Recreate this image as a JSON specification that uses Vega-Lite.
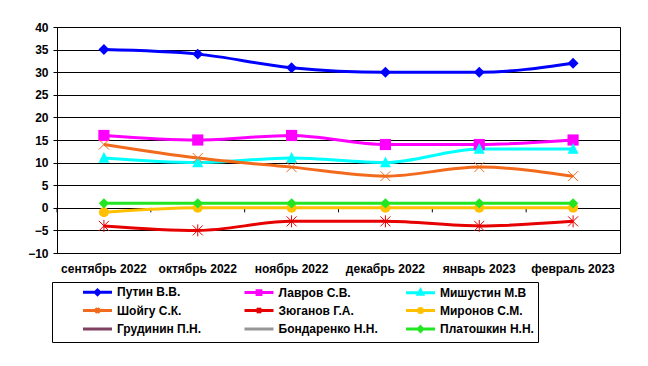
{
  "$schema": "https://vega.github.io/schema/vega-lite/v6.json",
  "width": 563,
  "height": 226,
  "autosize": {"type": "none"},
  "padding": {"left": 57, "top": 27, "right": 28, "bottom": 113},
  "background": "white",
  "config": {
    "font": "Liberation Sans",
    "view": {"stroke": "#000", "strokeWidth": 1},
    "axis": {
      "labelFont": "Liberation Sans",
      "labelFontWeight": "bold",
      "labelFontSize": 12,
      "labelColor": "#000",
      "domainColor": "#000",
      "tickColor": "#000",
      "gridColor": "#000",
      "gridOpacity": 1,
      "gridWidth": 1
    }
  },
  "data": {
    "values": [
      {"month": "сентябрь 2022", "name": "Путин В.В.", "value": 35},
      {"month": "октябрь 2022", "name": "Путин В.В.", "value": 34},
      {"month": "ноябрь 2022", "name": "Путин В.В.", "value": 31},
      {"month": "декабрь 2022", "name": "Путин В.В.", "value": 30},
      {"month": "январь 2023", "name": "Путин В.В.", "value": 30},
      {"month": "февраль 2023", "name": "Путин В.В.", "value": 32},
      {"month": "сентябрь 2022", "name": "Лавров С.В.", "value": 16},
      {"month": "октябрь 2022", "name": "Лавров С.В.", "value": 15},
      {"month": "ноябрь 2022", "name": "Лавров С.В.", "value": 16},
      {"month": "декабрь 2022", "name": "Лавров С.В.", "value": 14},
      {"month": "январь 2023", "name": "Лавров С.В.", "value": 14},
      {"month": "февраль 2023", "name": "Лавров С.В.", "value": 15},
      {"month": "сентябрь 2022", "name": "Мишустин М.В", "value": 11},
      {"month": "октябрь 2022", "name": "Мишустин М.В", "value": 10},
      {"month": "ноябрь 2022", "name": "Мишустин М.В", "value": 11},
      {"month": "декабрь 2022", "name": "Мишустин М.В", "value": 10},
      {"month": "январь 2023", "name": "Мишустин М.В", "value": 13},
      {"month": "февраль 2023", "name": "Мишустин М.В", "value": 13},
      {"month": "сентябрь 2022", "name": "Шойгу С.К.", "value": 14},
      {"month": "октябрь 2022", "name": "Шойгу С.К.", "value": 11},
      {"month": "ноябрь 2022", "name": "Шойгу С.К.", "value": 9},
      {"month": "декабрь 2022", "name": "Шойгу С.К.", "value": 7},
      {"month": "январь 2023", "name": "Шойгу С.К.", "value": 9},
      {"month": "февраль 2023", "name": "Шойгу С.К.", "value": 7},
      {"month": "сентябрь 2022", "name": "Зюганов Г.А.", "value": -4},
      {"month": "октябрь 2022", "name": "Зюганов Г.А.", "value": -5},
      {"month": "ноябрь 2022", "name": "Зюганов Г.А.", "value": -3},
      {"month": "декабрь 2022", "name": "Зюганов Г.А.", "value": -3},
      {"month": "январь 2023", "name": "Зюганов Г.А.", "value": -4},
      {"month": "февраль 2023", "name": "Зюганов Г.А.", "value": -3},
      {"month": "сентябрь 2022", "name": "Миронов С.М.", "value": -1},
      {"month": "октябрь 2022", "name": "Миронов С.М.", "value": 0},
      {"month": "ноябрь 2022", "name": "Миронов С.М.", "value": 0},
      {"month": "декабрь 2022", "name": "Миронов С.М.", "value": 0},
      {"month": "январь 2023", "name": "Миронов С.М.", "value": 0},
      {"month": "февраль 2023", "name": "Миронов С.М.", "value": 0},
      {"month": "сентябрь 2022", "name": "Платошкин Н.Н.", "value": 1},
      {"month": "октябрь 2022", "name": "Платошкин Н.Н.", "value": 1},
      {"month": "ноябрь 2022", "name": "Платошкин Н.Н.", "value": 1},
      {"month": "декабрь 2022", "name": "Платошкин Н.Н.", "value": 1},
      {"month": "январь 2023", "name": "Платошкин Н.Н.", "value": 1},
      {"month": "февраль 2023", "name": "Платошкин Н.Н.", "value": 1}
    ]
  },
  "encoding": {
    "x": {
      "field": "month", "type": "ordinal",
      "sort": ["сентябрь 2022", "октябрь 2022", "ноябрь 2022", "декабрь 2022", "январь 2023", "февраль 2023"],
      "scale": {"type": "band", "paddingInner": 0, "paddingOuter": 0},
      "axis": {"orient": "bottom", "title": null, "ticks": false, "domain": false, "grid": false, "labelPadding": 10, "labelAngle": 0}
    },
    "y": {
      "field": "value", "type": "quantitative",
      "scale": {"domain": [-10, 40], "nice": false, "zero": false},
      "axis": {"title": null, "values": [-10, -5, 0, 5, 10, 15, 20, 25, 30, 35, 40], "tickSize": 4, "labelPadding": 5, "grid": true}
    }
  },
  "layer": [
    {
      "transform": [{"filter": {"field": "name", "oneOf": ["Платошкин Н.Н."]}}],
      "mark": {"type": "rule", "color": "#000", "strokeWidth": 1},
      "encoding": {
        "x": {"field": "month", "type": "ordinal", "sort": ["сентябрь 2022", "октябрь 2022", "ноябрь 2022", "декабрь 2022", "январь 2023", "февраль 2023"], "bandPosition": 0},
        "y": {"datum": 0},
        "y2": {"datum": -1}
      }
    },
    {
      "mark": {"type": "line", "interpolate": "monotone", "strokeWidth": 3},
      "encoding": {
        "color": {
          "field": "name", "type": "nominal",
          "scale": {
            "domain": ["Платошкин Н.Н.", "Бондаренко Н.Н.", "Грудинин П.Н.", "Миронов С.М.", "Зюганов Г.А.", "Шойгу С.К.", "Мишустин М.В", "Лавров С.В.", "Путин В.В."],
            "range": ["#22e622", "#969696", "#7f3f5f", "#ffc000", "#e60000", "#f26b1d", "#00ffff", "#ff00ff", "#0000ff"]
          },
          "legend": null
        }
      }
    },
    {
      "transform": [{"filter": {"field": "name", "oneOf": ["Путин В.В."]}}],
      "mark": {"type": "point", "shape": "diamond", "filled": true, "size": 120, "opacity": 1},
      "encoding": {"color": {"field": "name", "type": "nominal", "legend": null}}
    },
    {
      "transform": [{"filter": {"field": "name", "oneOf": ["Лавров С.В."]}}],
      "mark": {"type": "point", "shape": "square", "filled": true, "size": 125, "opacity": 1},
      "encoding": {"color": {"field": "name", "type": "nominal", "legend": null}}
    },
    {
      "transform": [{"filter": {"field": "name", "oneOf": ["Мишустин М.В"]}}],
      "mark": {"type": "point", "shape": "M0,-1.1L1,0.85L-1,0.85Z", "filled": true, "size": 121, "opacity": 1},
      "encoding": {"color": {"field": "name", "type": "nominal", "legend": null}}
    },
    {
      "transform": [{"filter": {"field": "name", "oneOf": ["Шойгу С.К."]}}],
      "mark": {"type": "point", "shape": "M-1,-1L1,1M-1,1L1,-1", "filled": false, "strokeWidth": 1, "size": 100, "opacity": 1},
      "encoding": {"color": {"field": "name", "type": "nominal", "legend": null}}
    },
    {
      "transform": [{"filter": {"field": "name", "oneOf": ["Зюганов Г.А."]}}],
      "mark": {"type": "point", "shape": "M-1,-1L1,1M-1,1L1,-1M0,-1.2V1.2", "filled": false, "strokeWidth": 1, "size": 100, "opacity": 1},
      "encoding": {"color": {"field": "name", "type": "nominal", "legend": null}}
    },
    {
      "transform": [{"filter": {"field": "name", "oneOf": ["Миронов С.М."]}}],
      "mark": {"type": "point", "shape": "circle", "filled": true, "size": 100, "opacity": 1},
      "encoding": {"color": {"field": "name", "type": "nominal", "legend": null}}
    },
    {
      "transform": [{"filter": {"field": "name", "oneOf": ["Платошкин Н.Н."]}}],
      "mark": {"type": "point", "shape": "diamond", "filled": true, "size": 105, "opacity": 1},
      "encoding": {"color": {"field": "name", "type": "nominal", "legend": null}}
    },
    {
      "transform": [{"filter": "datum.value > 1000"}],
      "mark": {"type": "point", "filled": true, "opacity": 1},
      "encoding": {
        "fill": {
          "field": "name", "type": "nominal",
          "scale": {
            "domain": ["Путин В.В.", "Лавров С.В.", "Мишустин М.В", "Шойгу С.К.", "Зюганов Г.А.", "Миронов С.М.", "Грудинин П.Н.", "Бондаренко Н.Н.", "Платошкин Н.Н."],
            "range": ["#0000ff", "#ff00ff", "#00ffff", "#f26b1d", "#e60000", "#ffc000", "#7f3f5f", "#969696", "#22e622"]
          },
          "legend": {"title": " ", "titleOrient": "left", "titleFontSize": 1, "titlePadding": 21, "orient": "none", "direction": "horizontal", "legendX": -5, "legendY": 255, "columns": 3, "gridAlign": "all", "columnPadding": 21.5, "rowPadding": 0.5, "padding": 4, "strokeColor": "#000", "labelFont": "Liberation Sans", "labelFontWeight": "bold", "labelFontSize": 12, "labelColor": "#000", "symbolSize": 16, "symbolStrokeWidth": 3, "symbolOffset": 0, "labelOffset": 28}
        },
        "stroke": {
          "field": "name", "type": "nominal",
          "scale": {
            "domain": ["Путин В.В.", "Лавров С.В.", "Мишустин М.В", "Шойгу С.К.", "Зюганов Г.А.", "Миронов С.М.", "Грудинин П.Н.", "Бондаренко Н.Н.", "Платошкин Н.Н."],
            "range": ["#0000ff", "#ff00ff", "#00ffff", "#f26b1d", "#e60000", "#ffc000", "#7f3f5f", "#969696", "#22e622"]
          },
          "legend": {"title": " ", "titleOrient": "left", "titleFontSize": 1, "titlePadding": 21, "orient": "none", "direction": "horizontal", "legendX": -5, "legendY": 255, "columns": 3, "gridAlign": "all", "columnPadding": 21.5, "rowPadding": 0.5, "padding": 4, "strokeColor": "#000", "labelFont": "Liberation Sans", "labelFontWeight": "bold", "labelFontSize": 12, "labelColor": "#000", "symbolSize": 16, "symbolStrokeWidth": 3, "symbolOffset": 0, "labelOffset": 28}
        },
        "shape": {
          "field": "name", "type": "nominal",
          "scale": {
            "domain": ["Путин В.В.", "Лавров С.В.", "Мишустин М.В", "Шойгу С.К.", "Зюганов Г.А.", "Миронов С.М.", "Грудинин П.Н.", "Бондаренко Н.Н.", "Платошкин Н.Н."],
            "range": [
              "M0,0H14.5M7.25,-1.15L8.4,0L7.25,1.15L6.1,0Z",
              "M0,0H14.5M6.3,-0.95H8.2V0.95H6.3Z",
              "M0,0H14.5M7.25,-1.3L8.35,0.75H6.15Z",
              "M0,0H14.5M6.15,-1.1L8.35,1.1M6.15,1.1L8.35,-1.1",
              "M0,0H14.5M6.15,-1.1L8.35,1.1M6.15,1.1L8.35,-1.1M7.25,-1.4V1.4",
              "M0,0H14.5M6.25,0A1,1,0,1,1,8.25,0A1,1,0,1,1,6.25,0Z",
              "M0,0H14.5",
              "M0,0H14.5",
              "M0,0H14.5M7.25,-1.15L8.4,0L7.25,1.15L6.1,0Z"
            ]
          },
          "legend": {"title": " ", "titleOrient": "left", "titleFontSize": 1, "titlePadding": 21, "orient": "none", "direction": "horizontal", "legendX": -5, "legendY": 255, "columns": 3, "gridAlign": "all", "columnPadding": 21.5, "rowPadding": 0.5, "padding": 4, "strokeColor": "#000", "labelFont": "Liberation Sans", "labelFontWeight": "bold", "labelFontSize": 12, "labelColor": "#000", "symbolSize": 16, "symbolStrokeWidth": 3, "symbolOffset": 0, "labelOffset": 28}
        }
      }
    }
  ]
}
